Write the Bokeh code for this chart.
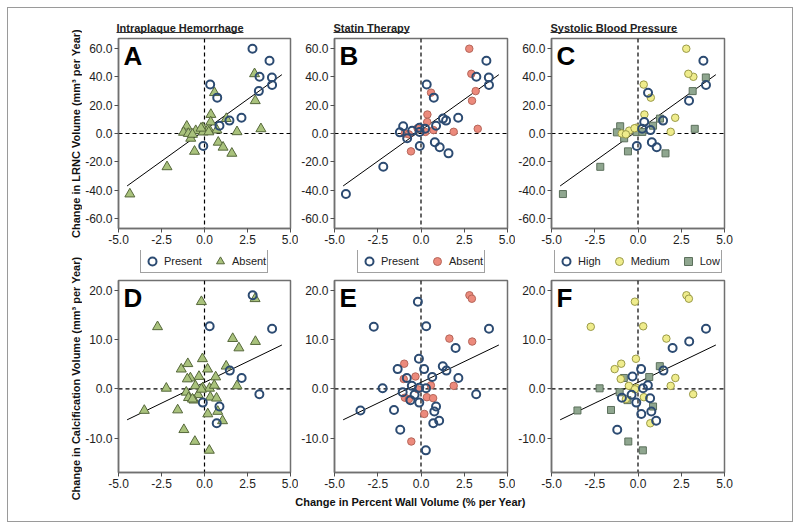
import math
from bokeh.plotting import figure
from bokeh.layouts import row, column
from bokeh.models import (Range1d, FixedTicker, NumeralTickFormatter, Span, Label,
                          Legend, LegendItem, ColumnDataSource, BoxAnnotation)
from bokeh.embed import file_html
from bokeh.resources import INLINE

# ---------------- data ----------------
# Top row: change in percent wall volume vs change in LRNC volume
x_top = [3.78, 3.20, 3.92, 3.93, 0.33, 0.74, 2.15, 1.27, 1.45, 0.87, -1.03, -1.22, -0.51,
         -0.09, 0.24, -0.08, -0.80, -0.07, 0.80, 1.08, 1.59, -2.18, -4.34,
         2.79, 2.91, 3.16, 2.95, 0.58, 0.37, 0.36, 0.72, 1.89, 3.28, -0.58, -0.94, -0.70,
         -0.20, 0.25]
y_lrnc = [51.3, 40.0, 39.5, 34.2, 34.5, 25.3, 11.1, 10.5, 9.1, 5.5, 5.1, 0.8, 2.0,
          4.1, 3.4, 1.0, -3.4, -8.8, -6.2, -9.7, -14.0, -23.5, -42.7,
          59.8, 42.1, 29.9, 23.1, 28.8, 13.4, 8.1, 2.4, 1.2, 3.3, -12.6, 0.0, -0.6,
          3.7, 1.1]
iph_top = ["P", "P", "P", "P", "P", "P", "P", "A", "P", "P", "A", "A", "A",
           "A", "A", "A", "A", "P", "A", "A", "A", "A", "A",
           "P", "A", "P", "A", "A", "A", "A", "A", "A", "A", "A", "A", "A", "A", "A"]
statin_top = ["P"] * 23 + ["A"] * 15
sbp_top = ["H", "M", "L", "H", "M", "M", "M", "L", "H", "L", "L", "L", "M",
           "M", "H", "L", "L", "H", "H", "H", "L", "L", "L",
           "M", "M", "L", "H", "H", "M", "H", "H", "M", "L", "L", "M", "M", "M", "L"]

# Bottom row: change in percent wall volume vs change in calcification volume
x_bot = [-0.18, -2.73, 0.30, 3.93, 2.00, -0.12, -1.35, 0.18, 1.26, 1.47, -0.82, 0.65, 2.16,
         -0.53, -0.10, 0.29, -2.22, -1.06, -0.37, 3.19, -0.10, 0.87, 0.77, -0.61, -1.56,
         -3.50, 0.71, 1.05, -1.20, 0.28,
         2.80, 2.94, 1.64, 2.96, -0.97, -1.00, -0.32, 0.57, 1.89, -0.18, -0.93, -0.70,
         0.34, 0.70, 0.19, -0.56]
y_calc = [17.7, 12.6, 12.7, 12.2, 8.3, 6.1, 4.0, 4.0, 4.6, 3.7, 2.2, 2.4, 2.2,
          0.6, 0.2, 0.1, 0.1, -0.7, -1.2, -1.1, -2.8, -3.6, -4.6, -2.3, -4.3,
          -4.4, -7.0, -6.5, -8.3, -12.5,
          19.0, 18.3, 10.2, 9.6, 5.1, 2.0, 2.5, 0.7, 0.6, -0.1, -1.8, -2.1,
          -1.7, -1.9, -5.1, -10.7]
iph_bot = ["A", "A", "P", "P", "A", "A", "A", "A", "A", "P", "A", "A", "P",
           "A", "A", "A", "A", "A", "A", "P", "P", "P", "A", "A", "A",
           "A", "P", "A", "A", "A",
           "P", "A", "A", "A", "A", "A", "A", "A", "A", "A", "A", "A", "A", "A", "A", "A"]
statin_bot = ["P"] * 30 + ["A"] * 16
sbp_bot = ["M", "M", "M", "H", "H", "M", "M", "H", "L", "H", "L", "L", "M",
           "M", "M", "H", "L", "L", "H", "M", "H", "L", "H", "L", "L",
           "L", "M", "H", "H", "L",
           "M", "M", "M", "H", "M", "M", "H", "H", "M", "M", "H", "M", "M", "H", "H", "L"]

# regression lines
line_x = [-4.5, 4.5]
line_lrnc = [-37.0, 41.5]
line_calc = [-6.3, 8.9]

x_ticks = [-5, -2.5, 0, 2.5, 5]
lrnc_ticks = [-60, -40, -20, 0, 20, 40, 60]
calc_ticks = [-10, 0, 10, 20]

titles = ["Intraplaque Hemorrhage", "Statin Therapy", "Systolic Blood Pressure"]
letters_top = ["A", "B", "C"]
letters_bot = ["D", "E", "F"]
iph_names = {"P": "Present", "A": "Absent"}
statin_names = {"P": "Present", "A": "Absent"}
sbp_names = {"H": "High", "M": "Medium", "L": "Low"}
ylabel_top = "Change in LRNC Volume (mm³ per Year)"
ylabel_bot = "Change in Calcification Volume (mm³ per Year)"
xlabel = "Change in Percent Wall Volume (% per Year)"

# ---------------- styles / layout ----------------
FONT = "Liberation Sans"
FRAME = "#707070"
BLUE = "#2c4b72"
STY_OPEN = dict(marker="circle", size=8, fill_alpha=0, line_color=BLUE, line_width=2)
STY_TRI = dict(marker="triangle", size=10, fill_color="#a9c27c", line_color="#55673a", line_width=1)
STY_SALMON = dict(marker="circle", size=7.5, fill_color="#ec8a7c", line_color="#b5665a", line_width=1)
STY_YELLOW = dict(marker="circle", size=7.5, fill_color="#efec8c", line_color="#9a9a48", line_width=1)
STY_SQ = dict(marker="square", size=7, fill_color="#8fa68f", line_color="#5c705c", line_width=1)

iph_style = {"P": STY_OPEN, "A": STY_TRI}
statin_style = {"P": STY_OPEN, "A": STY_SALMON}
sbp_style = {"H": STY_OPEN, "M": STY_YELLOW, "L": STY_SQ}

STRIP_W = 74            # left strip holding the rotated y labels
borders = [(34, 8), (35, 8), (35, 68)]
FRAME_W = 174
MAIN_W = sum(b[0] + b[1] + FRAME_W for b in borders)   # 710
TITLE_H, TOP_H, LEG_H, BOT_H, XL_H = 28, 214, 28, 215, 28
TOTAL_H = TITLE_H + TOP_H + LEG_H + BOT_H + XL_H        # 513
frame_left = []
acc = 0
for bl, br in borders:
    frame_left.append(acc + bl)
    acc += bl + FRAME_W + br
title_w = [127, 76, 127]
legend_w = [126, 126, 166]


def strip(width, height):
    s = figure(width=width, height=height, x_range=Range1d(0, width), y_range=Range1d(0, height),
               x_axis_type=None, y_axis_type=None, output_backend="svg",
               toolbar_location=None, min_border=0)
    s.outline_line_color = None
    s.grid.visible = False
    return s


def build(col, top, ylo, yhi, yticks):
    bl, br = borders[col]
    if top:
        height, bt, bb = TOP_H, 2, 22
    else:
        height, bt, bb = BOT_H, 2, 21
    p = figure(width=bl + FRAME_W + br, height=height,
               x_range=Range1d(-5, 5), y_range=Range1d(ylo, yhi),
               output_backend="svg", toolbar_location=None,
               min_border_left=bl, min_border_right=br,
               min_border_top=bt, min_border_bottom=bb)
    p.xgrid.visible = False
    p.ygrid.visible = False
    p.outline_line_color = FRAME
    p.outline_line_width = 1.5
    p.xaxis.ticker = FixedTicker(ticks=x_ticks, minor_ticks=[])
    p.yaxis.ticker = FixedTicker(ticks=yticks, minor_ticks=[])
    for ax in (p.xaxis[0], p.yaxis[0]):
        ax.formatter = NumeralTickFormatter(format="0.0")
        ax.axis_line_color = FRAME
        ax.axis_line_width = 1.5
        ax.major_tick_line_color = "#505050"
        ax.major_tick_out = 4
        ax.major_tick_in = 0
        ax.minor_tick_line_color = None
        ax.major_label_text_font = FONT
        ax.major_label_text_font_size = "12px"
        ax.major_label_text_color = "#1e1e1e"
        ax.major_label_standoff = 2
    p.add_layout(Span(location=0, dimension="height", line_dash="4 3",
                      line_color="black", line_width=1.2, level="underlay"))
    p.add_layout(Span(location=0, dimension="width", line_dash="4 3",
                      line_color="black", line_width=1.2, level="underlay"))
    return p


def subset(xs, ys, groups, g):
    return dict(x=[x for x, gg in zip(xs, groups) if gg == g],
                y=[y for y, gg in zip(ys, groups) if gg == g])


def add_points(p, xs, ys, groups, order, styles):
    for g in order:
        p.scatter("x", "y", source=ColumnDataSource(subset(xs, ys, groups, g)), **styles[g])


panels = [
    (iph_top, iph_bot, iph_style, ["A", "P"], ["P", "A"], iph_names),
    (statin_top, statin_bot, statin_style, ["A", "P"], ["P", "A"], statin_names),
    (sbp_top, sbp_bot, sbp_style, ["L", "M", "H"], ["H", "M", "L"], sbp_names),
]

# title strip
title_strip = strip(MAIN_W, TITLE_H)
for i, t in enumerate(titles):
    title_strip.add_layout(Label(x=frame_left[i], y=8.7, text=t, text_font=FONT,
                                 text_font_size="11px", text_font_style="bold",
                                 text_color="#222222", text_align="left",
                                 text_baseline="middle"))
    title_strip.add_layout(BoxAnnotation(left=frame_left[i], right=frame_left[i] + title_w[i],
                                         bottom=3.4, top=4.5, fill_color="#333333",
                                         fill_alpha=1, line_alpha=0))

# legend strip: legend glyphs come from hidden renderers holding the same groups
legend_strip = strip(MAIN_W, LEG_H)
top_figs, bot_figs = [], []
for i, (gt, gb, sty, draw_order, leg_order, names) in enumerate(panels):
    p = build(i, True, -67, 67, lrnc_ticks)
    p.line(line_x, line_lrnc, line_color="black", line_width=1)
    add_points(p, x_top, y_lrnc, gt, draw_order, sty)
    p.add_layout(Label(x=-4.71, y=65.2, text=letters_top[i], text_font=FONT,
                       text_font_size="26px", text_font_style="bold",
                       text_color="black", text_baseline="top"))
    top_figs.append(p)

    q = build(i, False, -17, 22, calc_ticks)
    q.line(line_x, line_calc, line_color="black", line_width=1)
    add_points(q, x_bot, y_calc, gb, draw_order, sty)
    q.add_layout(Label(x=-4.71, y=21.4, text=letters_bot[i], text_font=FONT,
                       text_font_size="26px", text_font_style="bold",
                       text_color="black", text_baseline="top"))
    bot_figs.append(q)

    items = []
    for g in leg_order:
        r = legend_strip.scatter("x", "y", source=ColumnDataSource(subset(x_top, y_lrnc, gt, g)),
                                 visible=False, **sty[g])
        items.append(LegendItem(label=names[g], renderers=[r]))
    cx = frame_left[i] + FRAME_W / 2.0
    legend = Legend(items=items, orientation="horizontal",
                    location=(cx - legend_w[i] / 2.0, 5),
                    border_line_color="#444444", border_line_width=1,
                    background_fill_color="white", background_fill_alpha=1,
                    inactive_fill_alpha=0,
                    label_text_font=FONT, label_text_font_size="11px",
                    label_text_color="#222222",
                    glyph_width=20, glyph_height=20, label_standoff=2,
                    label_height=12, label_width=10,
                    spacing=8, padding=1, margin=0)
    legend_strip.add_layout(legend)

# x label strip
xlabel_strip = strip(MAIN_W, XL_H)
xlabel_strip.add_layout(Label(x=410 - 8 - STRIP_W, y=20, text=xlabel, text_font=FONT,
                              text_font_size="11px", text_font_style="bold",
                              text_color="#111111", text_align="center",
                              text_baseline="middle"))

# y label strip
ylabel_strip = strip(STRIP_W, TOTAL_H)
ylabel_strip.add_layout(Label(x=67, y=TOTAL_H - (133 - 8), text=ylabel_top, angle=math.pi / 2,
                              text_font=FONT, text_font_size="11px", text_font_style="bold",
                              text_color="#111111", text_align="center", text_baseline="middle"))
ylabel_strip.add_layout(Label(x=67, y=TOTAL_H - (378 - 8), text=ylabel_bot, angle=math.pi / 2,
                              text_font=FONT, text_font_size="11px", text_font_style="bold",
                              text_color="#111111", text_align="center", text_baseline="middle"))

main = column(title_strip, row(*top_figs), legend_strip, row(*bot_figs), xlabel_strip)
layout = row(ylabel_strip, main, margin=(8, 8, 8, 8),
             styles={"outline": "1px solid #9a9a9a"})

open("out.html", "w").write(file_html(layout, INLINE))
